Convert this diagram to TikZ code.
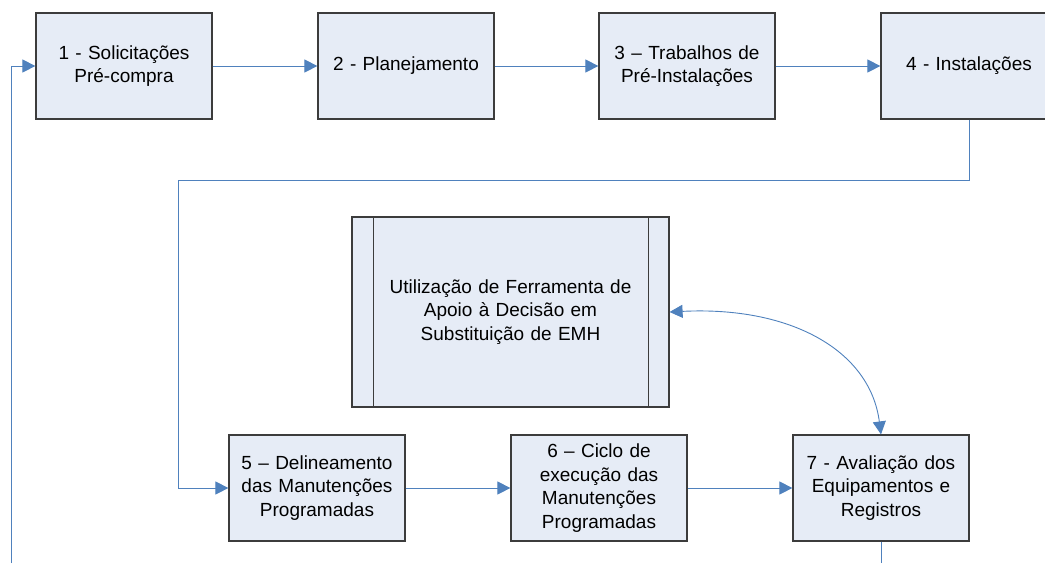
\documentclass[tikz,border=0pt]{standalone}
\usepackage{fontspec}
\setmainfont{Liberation Sans}
\usetikzlibrary{arrows.meta}
\definecolor{boxfill}{RGB}{230,236,246}
\definecolor{boxline}{RGB}{60,60,60}
\definecolor{flow}{RGB}{79,129,189}
\begin{document}
\begin{tikzpicture}[x=1pt,y=-1pt,
  stepbox/.style={draw=boxline,line width=1.2pt,fill=boxfill,minimum width=176pt,minimum height=106pt,
    inner sep=0pt,align=center,text width=170pt,font=\fontsize{19}{23.5}\selectfont},
  procbox/.style={draw=boxline,line width=1.2pt,fill=boxfill,minimum width=317pt,minimum height=190pt,
    inner sep=0pt,align=center,text width=270pt,font=\fontsize{19}{23.5}\selectfont},
  tip/.tip={Triangle[length=13pt,width=13pt]},
  flowline/.style={draw=flow,line width=0.9pt,-tip},
  plainflow/.style={draw=flow,line width=0.9pt}]
\useasboundingbox (0,0) rectangle (1045,563);
\clip (0,0) rectangle (1045,563);

% top row
\node[stepbox] (b1) at (124,66) {1 - Solicitações\\Pré-compra};
\node[stepbox] (b2) at (406,66) {2 - Planejamento};
\node[stepbox] (b3) at (687,66) {3 – Trabalhos de\\Pré-Instalações};
\node[stepbox] (b4) at (969,66) {4 - Instalações};

% decision support process
\node[procbox] (dss) at (510.5,312) {Utilização de Ferramenta de\\Apoio à Decisão em\\Substituição de EMH};
\draw[boxline,line width=1.2pt] ([xshift=22pt]dss.north west) -- ([xshift=22pt]dss.south west);
\draw[boxline,line width=1.2pt] ([xshift=-21pt]dss.north east) -- ([xshift=-21pt]dss.south east);

% bottom row
\node[stepbox] (b5) at (317,488) {5 – Delineamento\\das Manutenções\\Programadas};
\node[stepbox] (b6) at (599,488) {6 – Ciclo de\\execução das\\Manutenções\\Programadas};
\node[stepbox] (b7) at (881,488) {7 - Avaliação dos\\Equipamentos e\\Registros};

% routing points
\coordinate (loopin) at (11,563);
\coordinate (turn) at (178,180);
\coordinate (loopout) at (881,563);

% connectors
\draw[flowline] (loopin) |- (b1.west);
\draw[flowline] (b1) -- (b2);
\draw[flowline] (b2) -- (b3);
\draw[flowline] (b3) -- (b4);
\draw[plainflow] (b4.south) |- (turn);
\draw[flowline] (turn) |- (b5.west);
\draw[flowline] (b5) -- (b6);
\draw[flowline] (b6) -- (b7);
\draw[plainflow] (b7.south) -- (loopout);
\draw[flow,line width=0.9pt,tip-tip]
  (dss.east) .. controls (790,306) and (870,350) .. (b7.north);
\end{tikzpicture}
\end{document}
